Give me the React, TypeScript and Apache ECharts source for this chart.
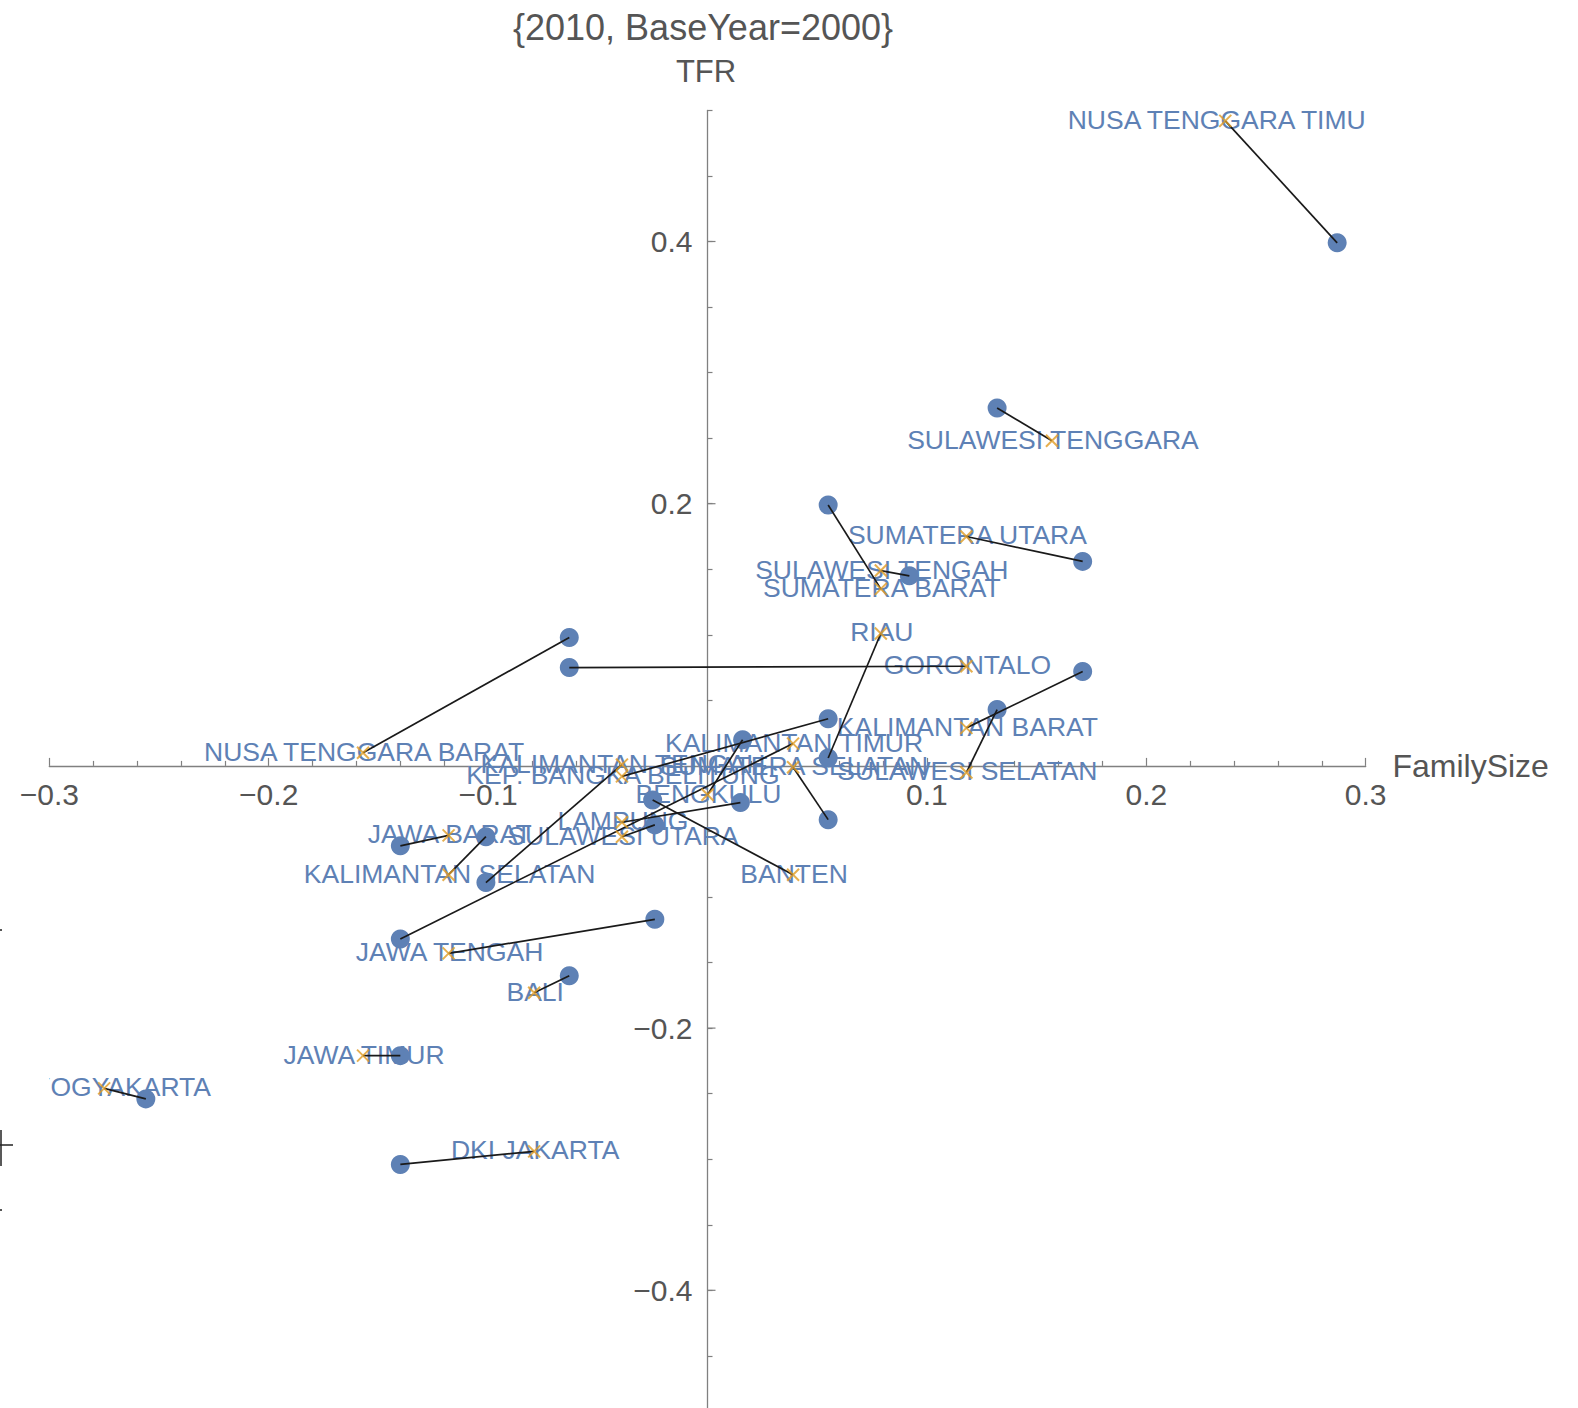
import React, { useEffect, useRef } from "react";
import * as echarts from "echarts";

// Province labels (placed at the 2010 position, the orange "x")
const provinces = [
  "NUSA TENGGARA TIMUR",
  "SULAWESI TENGGARA",
  "SUMATERA UTARA",
  "SUMATERA BARAT",
  "SULAWESI TENGAH",
  "RIAU",
  "GORONTALO",
  "NUSA TENGGARA BARAT",
  "KALIMANTAN BARAT",
  "SULAWESI SELATAN",
  "KEP. BANGKA BELITUNG",
  "KALIMANTAN TIMUR",
  "KALIMANTAN TENGAH",
  "SUMATERA SELATAN",
  "BENGKULU",
  "LAMPUNG",
  "SULAWESI UTARA",
  "BANTEN",
  "JAWA BARAT",
  "KALIMANTAN SELATAN",
  "JAWA TENGAH",
  "BALI",
  "JAWA TIMUR",
  "DI YOGYAKARTA",
  "DKI JAKARTA",
];

// Blue circles (base-year position)
const familySizeBase = [
  0.287, 0.132, 0.171, 0.055, 0.092, 0.055, -0.063, -0.063, 0.171, 0.132,
  0.055, -0.140, -0.101, 0.055, 0.016, 0.015, -0.024, -0.025, -0.140, -0.101,
  -0.024, -0.063, -0.140, -0.256, -0.140,
];
const tfrBase = [
  0.399, 0.273, 0.156, 0.199, 0.145, 0.006, 0.075, 0.098, 0.072, 0.043,
  0.036, -0.132, -0.089, -0.041, 0.020, -0.028, -0.045, -0.026, -0.061, -0.054,
  -0.117, -0.160, -0.221, -0.254, -0.304,
];

// Orange x markers (2010 position)
const familySize2010 = [
  0.236, 0.157, 0.118, 0.079, 0.079, 0.079, 0.118, -0.157, 0.118, 0.118,
  -0.039, 0.039, -0.039, 0.039, 0.0, -0.039, -0.039, 0.039, -0.118, -0.118,
  -0.118, -0.079, -0.157, -0.275, -0.079,
];
const tfr2010 = [
  0.492, 0.248, 0.175, 0.135, 0.149, 0.101, 0.076, 0.010, 0.029, -0.005,
  -0.008, 0.017, 0.001, -0.001, -0.022, -0.043, -0.054, -0.083, -0.053, -0.083,
  -0.143, -0.173, -0.221, -0.246, -0.294,
];

const xRange = [-0.3, 0.3];
const yRange = [-0.5, 0.5];
const yMajorTicks = [-0.4, -0.2, 0.2, 0.4];

const FONT = '"Liberation Sans", Arial, Helvetica, sans-serif';
const BLUE = "#5E81B5";
const ORANGE = "#E09C24";
const AXIS = "#808080";
const TEXT = "#555555";

const GRID = { left: 49.3, top: 110.4, width: 1316.4, height: 1311 };

function fmt(v: number): string {
  if (Math.abs(v) < 1e-9) return "";
  const s = Math.abs(v).toFixed(1);
  return v < 0 ? "\u2212" + s : s;
}

export default function App() {
  const ref = useRef<HTMLDivElement>(null);

  useEffect(() => {
    const chart = echarts.init(ref.current as HTMLDivElement, null, {
      renderer: "svg",
    });

    const circleData = provinces.map((_, i) => [familySizeBase[i], tfrBase[i]]);
    const markerData = provinces.map((_, i) => [familySize2010[i], tfr2010[i]]);
    const segData = provinces.map((_, i) => [
      familySizeBase[i],
      tfrBase[i],
      familySize2010[i],
      tfr2010[i],
    ]);

    // axes cross at the origin: shift each axis from the grid edge to zero
    const xAxisOffset = -(GRID.height * (0 - yRange[0])) / (yRange[1] - yRange[0]);
    const yAxisOffset = -(GRID.width * (0 - xRange[0])) / (xRange[1] - xRange[0]);

    const option: any = {
      animation: false,
      grid: {
        left: GRID.left,
        top: GRID.top,
        width: GRID.width,
        height: GRID.height,
        containLabel: false,
        outerBoundsMode: "none",
      },
      graphic: [
        {
          type: "text",
          x: 703,
          y: 27,
          style: {
            text: "{2010, BaseYear=2000}",
            fill: TEXT,
            fontSize: 36,
            fontFamily: FONT,
            align: "center",
            verticalAlign: "middle",
          },
        },
        {
          type: "line",
          shape: { x1: 0, y1: 1145, x2: 13, y2: 1145 },
          style: { stroke: "#222", lineWidth: 1.5 },
        },
        {
          type: "line",
          shape: { x1: 1, y1: 1130, x2: 1, y2: 1166 },
          style: { stroke: "#222", lineWidth: 1.5 },
        },
        {
          type: "rect",
          shape: { x: 0, y: 929, width: 2, height: 2 },
          style: { fill: "#555" },
        },
        {
          type: "rect",
          shape: { x: 0, y: 1209, width: 2, height: 2 },
          style: { fill: "#555" },
        },
      ],
      xAxis: {
        type: "value",
        position: "bottom",
        offset: xAxisOffset,
        min: xRange[0],
        max: xRange[1],
        interval: 0.1,
        name: "FamilySize",
        nameLocation: "end",
        nameGap: 23,
        nameTextStyle: { fontSize: 32, color: TEXT, fontFamily: FONT },
        axisLine: { show: true, onZero: false, lineStyle: { color: AXIS, width: 1.3 } },
        axisTick: { show: true, inside: true, length: 8, lineStyle: { color: AXIS, width: 1.2 } },
        minorTick: { show: true, splitNumber: 5, length: 5, lineStyle: { color: AXIS, width: 1.2 } },
        axisLabel: {
          formatter: fmt,
          margin: 14,
          fontSize: 30,
          color: TEXT,
          fontFamily: FONT,
          showMinLabel: true,
          showMaxLabel: true,
        },
        splitLine: { show: false },
        minorSplitLine: { show: false },
      },
      yAxis: {
        type: "value",
        position: "left",
        offset: yAxisOffset,
        min: yRange[0],
        max: yRange[1],
        interval: 0.05,
        name: "TFR",
        nameLocation: "end",
        nameGap: 23,
        nameTextStyle: { fontSize: 31, color: TEXT, fontFamily: FONT, padding: [0, 3, 0, 0] },
        axisLine: { show: true, onZero: false, lineStyle: { color: AXIS, width: 1.3 } },
        axisTick: { show: true, inside: true, length: 5, lineStyle: { color: AXIS, width: 1.2 } },
        axisLabel: {
          formatter: (v: number) =>
            yMajorTicks.some((t) => Math.abs(t - v) < 1e-6) ? fmt(v) : "",
          margin: 15,
          fontSize: 30,
          color: TEXT,
          fontFamily: FONT,
        },
        splitLine: { show: false },
      },
      series: [
        {
          // labels, clipped horizontally to the plot range
          type: "custom",
          name: "labels",
          coordinateSystem: "cartesian2d",
          silent: true,
          z: 1,
          data: markerData,
          renderItem: (params: any, api: any) => {
            const p = api.coord([api.value(0), api.value(1)]);
            const cs = params.coordSys;
            return {
              type: "group",
              clipPath: {
                type: "rect",
                shape: { x: cs.x, y: cs.y - 40, width: cs.width, height: cs.height + 80 },
              },
              children: [
                {
                  type: "text",
                  x: p[0] + 1,
                  y: p[1] - 1,
                  style: {
                    text: provinces[params.dataIndex],
                    fill: BLUE,
                    fontSize: 26.5,
                    fontFamily: FONT,
                    align: "center",
                    verticalAlign: "middle",
                  },
                },
              ],
            };
          },
        },
        {
          type: "scatter",
          name: "base",
          data: circleData,
          symbol: "circle",
          symbolSize: 19,
          itemStyle: { color: BLUE, opacity: 1 },
          z: 2,
          silent: true,
        },
        {
          type: "custom",
          name: "links",
          coordinateSystem: "cartesian2d",
          silent: true,
          z: 3,
          data: segData,
          renderItem: (params: any, api: any) => {
            const a = api.coord([api.value(0), api.value(1)]);
            const b = api.coord([api.value(2), api.value(3)]);
            return {
              type: "line",
              shape: { x1: a[0], y1: a[1], x2: b[0], y2: b[1] },
              style: { stroke: "#1a1a1a", lineWidth: 1.7 },
            };
          },
        },
        {
          type: "scatter",
          name: "2010",
          data: markerData,
          symbol: "path://M0,0L10,10M10,0L0,10",
          symbolSize: 12,
          itemStyle: { color: "rgba(0,0,0,0)", borderColor: ORANGE, borderWidth: 2 },
          z: 4,
          silent: true,
        },
        {
          type: "custom",
          name: "majorTicks",
          coordinateSystem: "cartesian2d",
          silent: true,
          z: 0,
          data: yMajorTicks.map((v) => [0, v]),
          renderItem: (params: any, api: any) => {
            const p = api.coord([api.value(0), api.value(1)]);
            return {
              type: "line",
              shape: { x1: p[0], y1: p[1], x2: p[0] + 8, y2: p[1] },
              style: { stroke: AXIS, lineWidth: 1.2 },
            };
          },
        },
      ],
    };

    chart.setOption(option);
    return () => {
      chart.dispose();
    };
  }, []);

  return (
    <div
      ref={ref}
      style={{ position: "fixed", left: 0, top: 0, width: 1578, height: 1408, background: "#fff" }}
    />
  );
}
